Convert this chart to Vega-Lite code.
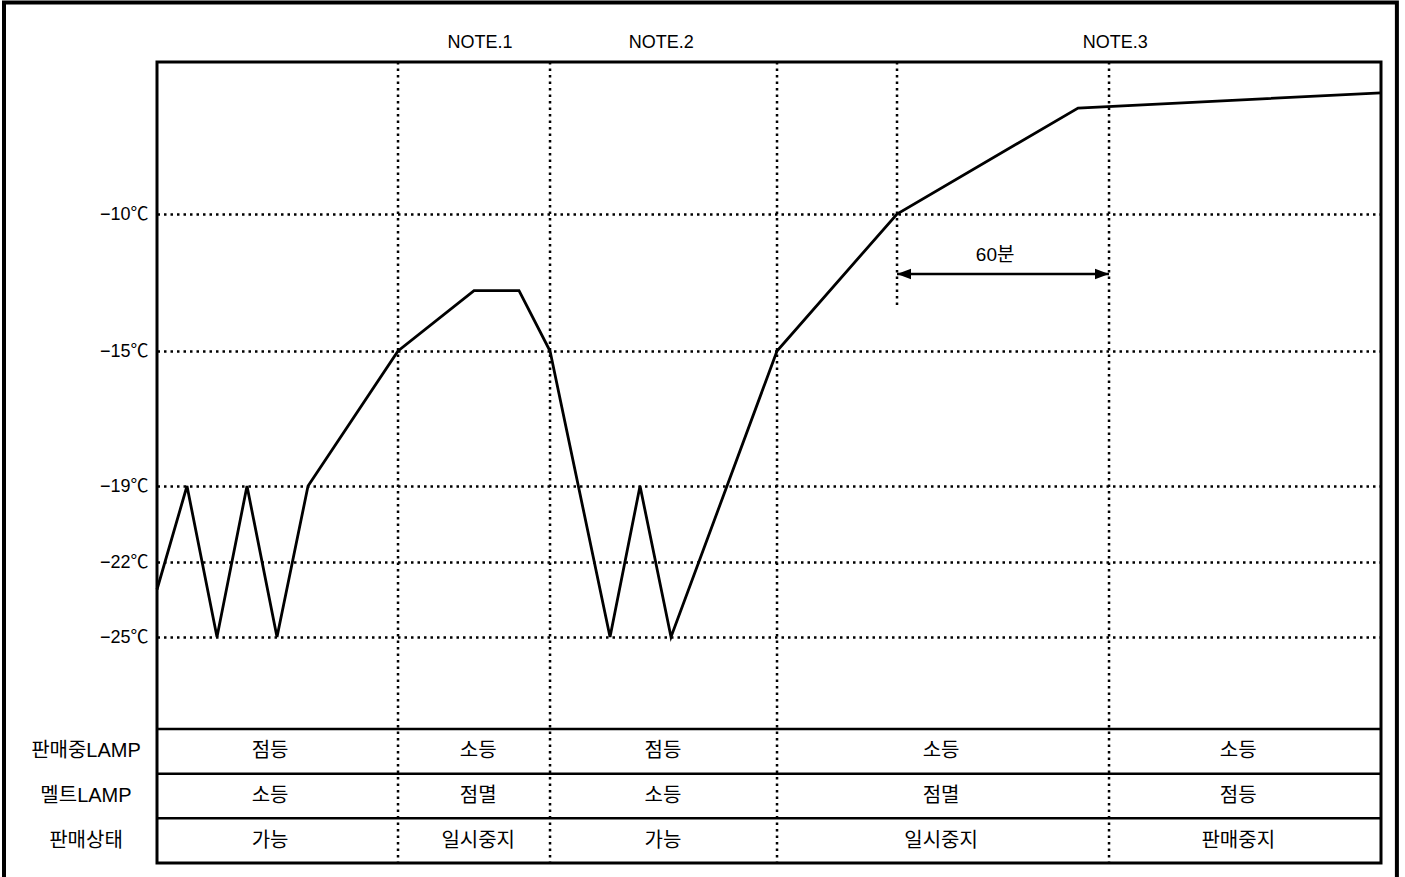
{
  "$schema": "https://vega.github.io/schema/vega-lite/v6.json",
  "width": 1224,
  "height": 801,
  "autosize": {"type": "none"},
  "padding": {"left": 157, "top": 62, "right": 24, "bottom": 14},
  "background": "white",
  "config": {
    "font": "'Liberation Sans', 'Noto Sans CJK KR', sans-serif",
    "view": {"stroke": "black", "strokeWidth": 3},
    "text": {"color": "black", "fontSize": 18}
  },
  "datasets": {
    "frame": [{"t": -43.3, "t2": 350.9, "v": -2.28, "v2": -34.7}],
    "temp": [
      {"t": 0, "v": -23.1},
      {"t": 8.49, "v": -19},
      {"t": 16.98, "v": -25},
      {"t": 25.47, "v": -19},
      {"t": 33.96, "v": -25},
      {"t": 42.74, "v": -19},
      {"t": 68.21, "v": -15},
      {"t": 89.72, "v": -12.8},
      {"t": 102.45, "v": -12.8},
      {"t": 111.23, "v": -15},
      {"t": 128.21, "v": -25},
      {"t": 136.7, "v": -19},
      {"t": 145.47, "v": -25},
      {"t": 175.47, "v": -15},
      {"t": 209.43, "v": -10},
      {"t": 260.66, "v": -6.13},
      {"t": 346.4, "v": -5.58}
    ],
    "dividers": [{"t": 68.21}, {"t": 111.23}, {"t": 175.47}, {"t": 269.43}],
    "marker": [{"t": 209.43, "v": -4.45, "v2": -13.32}],
    "span": [{"t": 209.43, "t2": 269.43, "v": -12.19}],
    "heads": [
      {"t": 209.43, "v": -12.19, "dir": "left"},
      {"t": 269.43, "v": -12.19, "dir": "right"}
    ],
    "spanLabel": [{"t": 237.2, "v": -11.51, "label": "60분"}],
    "notes": [
      {"t": 91.4, "v": -3.76, "label": "NOTE.1"},
      {"t": 142.7, "v": -3.76, "label": "NOTE.2"},
      {"t": 271.2, "v": -3.76, "label": "NOTE.3"}
    ],
    "rowLines": [{"r": 0}, {"r": 1}, {"r": 2}],
    "cells": [
      {"t": 32.0, "r": 0.5, "label": "점등"},
      {"t": 90.9, "r": 0.5, "label": "소등"},
      {"t": 143.2, "r": 0.5, "label": "점등"},
      {"t": 221.9, "r": 0.5, "label": "소등"},
      {"t": 306.0, "r": 0.5, "label": "소등"},
      {"t": 32.0, "r": 1.5, "label": "소등"},
      {"t": 90.9, "r": 1.5, "label": "점멸"},
      {"t": 143.2, "r": 1.5, "label": "소등"},
      {"t": 221.9, "r": 1.5, "label": "점멸"},
      {"t": 306.0, "r": 1.5, "label": "점등"},
      {"t": 32.0, "r": 2.5, "label": "가능"},
      {"t": 90.9, "r": 2.5, "label": "일시중지"},
      {"t": 143.2, "r": 2.5, "label": "가능"},
      {"t": 221.9, "r": 2.5, "label": "일시중지"},
      {"t": 306.0, "r": 2.5, "label": "판매중지"}
    ],
    "rowLabels": [
      {"t": -20.1, "r": 0.5, "label": "판매중LAMP"},
      {"t": -20.1, "r": 1.5, "label": "멜트LAMP"},
      {"t": -20.1, "r": 2.5, "label": "판매상태"}
    ]
  },
  "layer": [
    {
      "data": {"name": "temp"},
      "mark": {"type": "line", "color": "black", "strokeWidth": 2.8, "strokeJoin": "miter"},
      "encoding": {
        "x": {"field": "t", "type": "quantitative", "scale": {"domain": [0, 346.4], "nice": false, "zero": false}, "axis": null},
        "y": {
          "field": "v", "type": "quantitative",
          "scale": {"domain": [-28.68, -25, -22, -19, -15, -10, -4.45], "range": [667, 575, 500, 424, 289, 152, 0], "nice": false, "zero": false},
          "axis": {
            "values": [-10, -15, -19, -22, -25],
            "labelExpr": "'−' + abs(datum.value) + '℃'",
            "title": null,
            "ticks": false,
            "domain": false,
            "grid": true,
            "gridColor": "black",
            "gridDash": [2.5, 4],
            "gridWidth": 2.5,
            "gridOpacity": 1,
            "labelFontSize": 18,
            "labelColor": "black",
            "labelPadding": 9,
            "zindex": 0
          }
        }
      }
    },
    {
      "data": {"name": "frame"},
      "mark": {"type": "rect", "filled": false, "stroke": "black", "strokeWidth": 4},
      "encoding": {
        "x": {"field": "t", "type": "quantitative", "scale": {"domain": [0, 346.4], "nice": false, "zero": false}, "axis": null},
        "x2": {"field": "t2"},
        "y": {"field": "v", "type": "quantitative", "scale": {"domain": [-28.68, -25, -22, -19, -15, -10, -4.45], "range": [667, 575, 500, 424, 289, 152, 0], "nice": false, "zero": false}, "axis": null},
        "y2": {"field": "v2"}
      }
    },
    {
      "data": {"name": "dividers"},
      "mark": {"type": "rule", "color": "black", "strokeWidth": 2.5, "strokeDash": [2.5, 4]},
      "encoding": {
        "x": {"field": "t", "type": "quantitative", "scale": {"domain": [0, 346.4], "nice": false, "zero": false}, "axis": null}
      }
    },
    {
      "data": {"name": "marker"},
      "mark": {"type": "rule", "color": "black", "strokeWidth": 2.5, "strokeDash": [2.5, 4]},
      "encoding": {
        "x": {"field": "t", "type": "quantitative", "scale": {"domain": [0, 346.4], "nice": false, "zero": false}, "axis": null},
        "y": {"field": "v", "type": "quantitative", "scale": {"domain": [-28.68, -25, -22, -19, -15, -10, -4.45], "range": [667, 575, 500, 424, 289, 152, 0], "nice": false, "zero": false}, "axis": null},
        "y2": {"field": "v2"}
      }
    },
    {
      "data": {"name": "span"},
      "mark": {"type": "rule", "color": "black", "strokeWidth": 2.5},
      "encoding": {
        "x": {"field": "t", "type": "quantitative", "scale": {"domain": [0, 346.4], "nice": false, "zero": false}, "axis": null},
        "x2": {"field": "t2"},
        "y": {"field": "v", "type": "quantitative", "scale": {"domain": [-28.68, -25, -22, -19, -15, -10, -4.45], "range": [667, 575, 500, 424, 289, 152, 0], "nice": false, "zero": false}, "axis": null}
      }
    },
    {
      "data": {"name": "heads"},
      "mark": {"type": "point", "filled": true, "color": "black", "opacity": 1, "size": 196},
      "encoding": {
        "x": {"field": "t", "type": "quantitative", "scale": {"domain": [0, 346.4], "nice": false, "zero": false}, "axis": null},
        "y": {"field": "v", "type": "quantitative", "scale": {"domain": [-28.68, -25, -22, -19, -15, -10, -4.45], "range": [667, 575, 500, 424, 289, 152, 0], "nice": false, "zero": false}, "axis": null},
        "shape": {"field": "dir", "type": "nominal", "scale": {"domain": ["left", "right"], "range": ["M0,0L2,-0.75L2,0.75Z", "M0,0L-2,-0.75L-2,0.75Z"]}, "legend": null}
      }
    },
    {
      "data": {"name": "spanLabel"},
      "mark": {"type": "text", "align": "center", "baseline": "middle", "fontSize": 19},
      "encoding": {
        "x": {"field": "t", "type": "quantitative", "scale": {"domain": [0, 346.4], "nice": false, "zero": false}, "axis": null},
        "y": {"field": "v", "type": "quantitative", "scale": {"domain": [-28.68, -25, -22, -19, -15, -10, -4.45], "range": [667, 575, 500, 424, 289, 152, 0], "nice": false, "zero": false}, "axis": null},
        "text": {"field": "label"}
      }
    },
    {
      "data": {"name": "notes"},
      "mark": {"type": "text", "align": "center", "baseline": "middle", "fontSize": 18},
      "encoding": {
        "x": {"field": "t", "type": "quantitative", "scale": {"domain": [0, 346.4], "nice": false, "zero": false}, "axis": null},
        "y": {"field": "v", "type": "quantitative", "scale": {"domain": [-28.68, -25, -22, -19, -15, -10, -4.45], "range": [667, 575, 500, 424, 289, 152, 0], "nice": false, "zero": false}, "axis": null},
        "text": {"field": "label"}
      }
    },
    {
      "data": {"name": "rowLines"},
      "mark": {"type": "rule", "color": "black", "strokeWidth": 2.5},
      "encoding": {
        "y": {"field": "r", "type": "quantitative", "scale": {"domain": [0, 3], "range": [667, 801], "nice": false, "zero": false}, "axis": null}
      }
    },
    {
      "data": {"name": "cells"},
      "mark": {"type": "text", "align": "center", "baseline": "middle", "fontSize": 20},
      "encoding": {
        "x": {"field": "t", "type": "quantitative", "scale": {"domain": [0, 346.4], "nice": false, "zero": false}, "axis": null},
        "y": {"field": "r", "type": "quantitative", "scale": {"domain": [0, 3], "range": [667, 801], "nice": false, "zero": false}, "axis": null},
        "text": {"field": "label"}
      }
    },
    {
      "data": {"name": "rowLabels"},
      "mark": {"type": "text", "align": "center", "baseline": "middle", "fontSize": 20},
      "encoding": {
        "x": {"field": "t", "type": "quantitative", "scale": {"domain": [0, 346.4], "nice": false, "zero": false}, "axis": null},
        "y": {"field": "r", "type": "quantitative", "scale": {"domain": [0, 3], "range": [667, 801], "nice": false, "zero": false}, "axis": null},
        "text": {"field": "label"}
      }
    }
  ],
  "resolve": {"scale": {"y": "independent"}}
}
